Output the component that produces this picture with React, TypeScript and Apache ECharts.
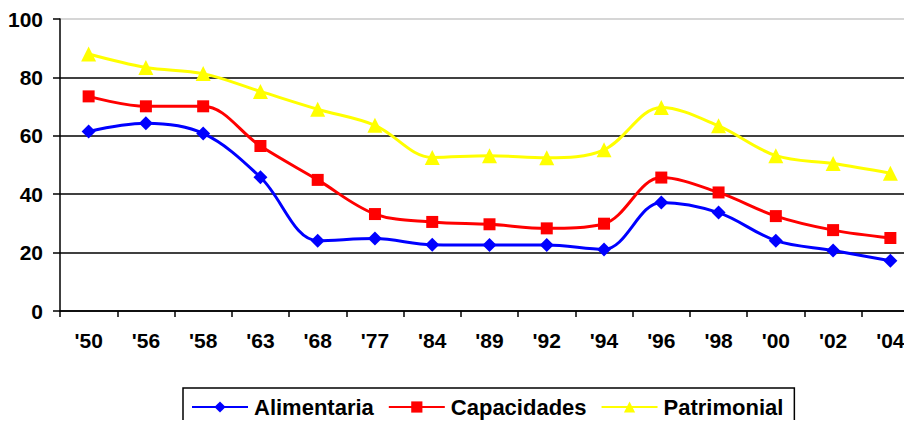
import React, { useEffect, useRef } from "react";
import * as echarts from "echarts";

const categories = ["'50", "'56", "'58", "'63", "'68", "'77", "'84", "'89", "'92", "'94", "'96", "'98", "'00", "'02", "'04"];
const alimentaria = [61.5, 64.3, 60.8, 45.8, 24.1, 24.8, 22.7, 22.6, 22.6, 21.1, 37.2, 33.7, 24.1, 20.7, 17.2];
const capacidades = [73.5, 70.1, 70.1, 56.5, 44.9, 33.2, 30.5, 29.7, 28.3, 29.9, 45.7, 40.6, 32.5, 27.7, 25.0];
const patrimonial = [88.0, 83.4, 81.3, 75.2, 69.1, 63.6, 52.6, 53.2, 52.5, 55.2, 69.7, 63.4, 53.2, 50.5, 47.2];
const yTicks = { min: 0, max: 100, interval: 20 };

const FONT = "'Liberation Sans', Arial, sans-serif";

export default function App() {
  const ref = useRef<HTMLDivElement>(null);
  useEffect(() => {
    if (!ref.current) return;
    const chart = echarts.init(ref.current, null, { renderer: "svg" });
    const mk = (name: string, data: number[], color: string, symbol: string, size: number) => ({
      name,
      type: "line",
      data,
      smooth: 0.35,
      symbol,
      symbolSize: size,
      showSymbol: true,
      lineStyle: { color, width: 3 },
      itemStyle: { color, borderWidth: 0 },
    });
    chart.setOption({
      animation: false,
      backgroundColor: "#fff",
      textStyle: { fontFamily: FONT },
      grid: { left: 60, top: 19, right: -7, bottom: 117, containLabel: false, outerBoundsMode: "none" },
      xAxis: {
        type: "category",
        data: categories,
        boundaryGap: true,
        axisLine: { lineStyle: { color: "#000", width: 1.5 } },
        axisTick: { show: true, length: 6, lineStyle: { color: "#000", width: 1.5 }, alignWithLabel: false },
        axisLabel: { color: "#000", fontSize: 21, fontWeight: "bold", fontFamily: FONT, margin: 19, interval: 0 },
        splitLine: { show: false },
      },
      yAxis: {
        type: "value",
        min: yTicks.min,
        max: yTicks.max,
        interval: yTicks.interval,
        axisLine: { show: true, lineStyle: { color: "#000", width: 1.5 } },
        axisTick: { show: true, length: 7, lineStyle: { color: "#000", width: 1.5 } },
        axisLabel: { color: "#000", fontSize: 21, fontWeight: "bold", fontFamily: FONT, margin: 17 },
        splitLine: {
          show: true,
          lineStyle: { color: ["#000", "#000", "#000", "#000", "#000", "#c8c8c8"], width: 1.5 },
        },
      },
      legend: {
        data: ["Alimentaria", "Capacidades", "Patrimonial"],
        left: 183,
        top: 388,
        orient: "horizontal",
        itemGap: 14,
        itemWidth: 56,
        itemHeight: 14,
        padding: [8, 11, 30, 8],
        borderColor: "#000",
        borderWidth: 1.5,
        textStyle: { color: "#000", fontSize: 22, fontWeight: "bold", fontFamily: FONT, padding: [0, 0, 0, 1] },
      },
      series: [
        mk("Alimentaria", alimentaria, "#0000ff", "diamond", 14),
        mk("Capacidades", capacidades, "#ff0000", "rect", 12),
        mk("Patrimonial", patrimonial, "#ffff00", "triangle", 15),
      ],
    });
    return () => chart.dispose();
  }, []);
  return <div ref={ref} style={{ width: 912, height: 428, margin: -8 }} />;
}
